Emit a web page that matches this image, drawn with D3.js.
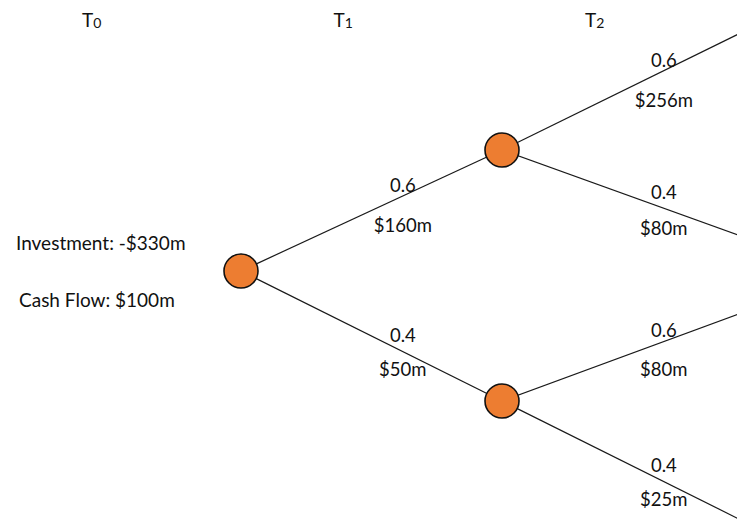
<!DOCTYPE html>
<html>
<head>
<meta charset="utf-8">
<script src="https://cdn.jsdelivr.net/npm/d3@7"></script>
<style>
  html, body { margin: 0; padding: 0; background: #fff; }
  svg { display: block; font-family: Lato, "Open Sans", sans-serif; }
  .Tree-edge { stroke: #1a1a1a; stroke-width: 1.2; fill: none; }
  .Tree-node { fill: #ed7d31; stroke: #111; stroke-width: 1.6; }
  .Tree-label { fill: #111; font-size: 18.5px; text-anchor: middle; }
  .Tree-note { fill: #111; font-size: 19px; }
  .Tree-period { fill: #111; font-size: 19px; }
</style>
</head>
<body>
<script>
// periods along the top
var periods = ['0', '1', '2'];

// nodes: period and row (row, top = 0)
var nodeIds = ['root', 'up', 'down', 'upUp', 'upDown', 'downUp', 'downDown'];
var nodePeriods = [0, 1, 1, 2, 2, 2, 2];
var nodeRows = [271, 150, 401, 22, 244, 305, 531];
var nodeDrawn = [true, true, true, false, false, false, false];

// edges: parent, child, probability, cash flow
var edgeFrom = ['root', 'root', 'up', 'up', 'down', 'down'];
var edgeTo = ['up', 'down', 'upUp', 'upDown', 'downUp', 'downDown'];
var edgeProbs = ['0.6', '0.4', '0.6', '0.4', '0.6', '0.4'];
var edgeValues = ['$160m', '$50m', '$256m', '$80m', '$80m', '$25m'];

var notes = ['Investment: -$330m', 'Cash Flow: $100m'];

var width = 737, height = 528;

var svg = d3.select('body').append('svg')
  .attr('width', width)
  .attr('height', height);

var xScale = d3.scaleLinear().domain([0, 2]).range([241, 763]);
var headerScale = d3.scaleLinear().domain([0, 2]).range([82, 585]);
var yScale = d3.scaleLinear().domain([0, height]).range([0, height]);

var nodes = nodeIds.map(function(id, i) {
  return { id: id, x: xScale(nodePeriods[i]), y: yScale(nodeRows[i]), drawn: nodeDrawn[i] };
});
var byId = {};
nodes.forEach(function(n) { byId[n.id] = n; });

var edges = edgeFrom.map(function(f, i) {
  var s = byId[f], e = byId[edgeTo[i]];
  return {
    source: s, target: e,
    slope: (e.y - s.y) / (e.x - s.x),
    prob: edgeProbs[i], value: edgeValues[i]
  };
});

// period headers: T with small digit
var headers = svg.append('g').attr('class', 'Tree-periods')
  .selectAll('text').data(periods).enter().append('text')
  .attr('class', 'Tree-period')
  .attr('x', function(d, i) { return headerScale(i); })
  .attr('y', 27);
headers.append('tspan').text('T');
headers.append('tspan')
  .attr('font-size', '14px')
  .attr('dy', 1)
  .text(function(d) { return d; });

svg.append('g').attr('class', 'Tree-edges')
  .selectAll('line').data(edges).enter().append('line')
  .attr('class', 'Tree-edge')
  .attr('x1', function(d) { return d.source.x; })
  .attr('y1', function(d) { return d.source.y; })
  .attr('x2', function(d) { return d.target.x; })
  .attr('y2', function(d) { return d.target.y; });

// labels sit a bit past the middle of each branch
var t = 0.62;
var labels = svg.append('g').attr('class', 'Tree-labels')
  .selectAll('g').data(edges).enter().append('g')
  .attr('transform', function(d) {
    var x = d.source.x + (d.target.x - d.source.x) * t;
    var y = d.source.y + (d.target.y - d.source.y) * t;
    return 'translate(' + x + ',' + (y - 14 - 6 * d.slope) + ')';
  });
labels.append('text')
  .attr('class', 'Tree-label')
  .attr('y', 7)
  .text(function(d) { return d.prob; });
labels.append('text')
  .attr('class', 'Tree-label')
  .attr('y', function(d) { return 44.5 - 5.4 * d.slope; })
  .text(function(d) { return d.value; });

svg.append('g').attr('class', 'Tree-nodes')
  .selectAll('circle').data(nodes.filter(function(n) { return n.drawn; }))
  .enter().append('circle')
  .attr('class', 'Tree-node')
  .attr('cx', function(d) { return d.x; })
  .attr('cy', function(d) { return d.y; })
  .attr('r', 17);

svg.append('g').attr('class', 'Tree-notes')
  .selectAll('text').data(notes).enter().append('text')
  .attr('class', 'Tree-note')
  .attr('x', function(d, i) { return i === 0 ? 16 : 19; })
  .attr('y', function(d, i) { return 250 + i * 57; })
  .text(function(d) { return d; });
</script>
</body>
</html>
